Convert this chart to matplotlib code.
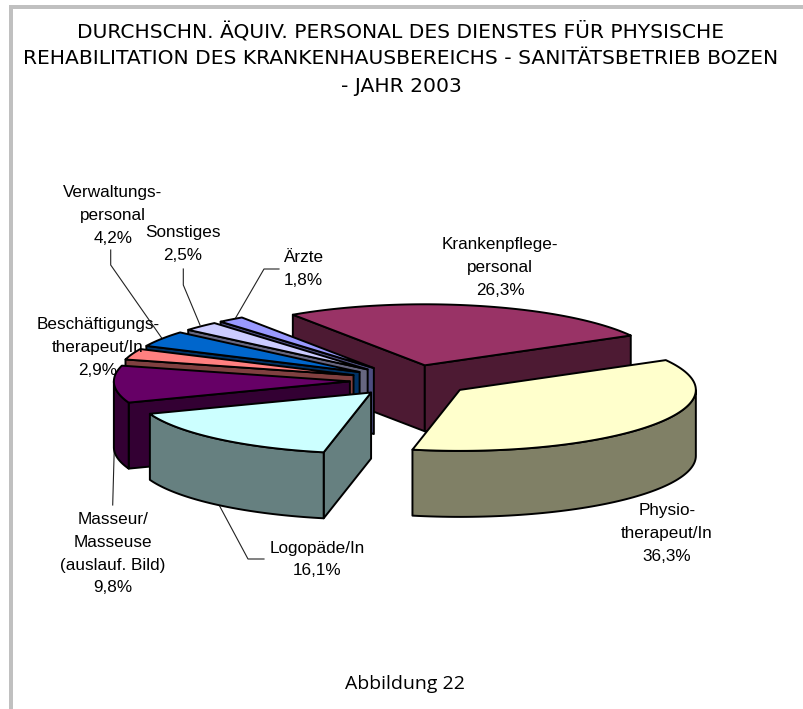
import numpy as np
import matplotlib
matplotlib.use("Agg")
import matplotlib.pyplot as plt
from matplotlib.patches import Polygon, Rectangle

# ---------- data ----------
categories = ["Krankenpflege-\npersonal", "Physio-\ntherapeut/In", "Logopäde/In",
              "Masseur/\nMasseuse\n(auslauf. Bild)", "Beschäftigungs-\ntherapeut/In",
              "Verwaltungs-\npersonal", "Sonstiges", "Ärzte"]
shares = [26.3, 36.3, 16.1, 9.8, 2.9, 4.2, 2.5, 1.8]
share_labels = ["26,3%", "36,3%", "16,1%", "9,8%", "2,9%", "4,2%", "2,5%", "1,8%"]
top_colors = ["#993366", "#FFFFCC", "#CCFFFF", "#660066", "#FF8080", "#0066CC", "#CCCCFF", "#9999FF"]
side_colors = ["#4D1A33", "#808066", "#668080", "#330033", "#804040", "#003366", "#666680", "#4D4D80"]
title_lines = ["DURCHSCHN. ÄQUIV. PERSONAL DES DIENSTES FÜR PHYSISCHE",
               "REHABILITATION DES KRANKENHAUSBEREICHS - SANITÄTSBETRIEB BOZEN",
               "- JAHR 2003"]
caption = "Abbildung 22"

# ---------- layout (pixel space) ----------
W, H = 804, 709
CX, CY = 410.7, 380.6
RX, RY = 236.0, 61.0
EXPLODE = 0.258
DEPTH = 66.0
START_DEG = -124.0
label_pos = [(500, 245), (667, 511), (317, 548), (113, 520), (98, 325), (113, 193), (183, 233), (303, 258)]
leaders = [None, None,
           [(218, 503), (248, 559), (264, 559)],
           [(114.5, 440), (112.7, 505)],
           None,
           [(110.7, 250), (110.7, 265), (161.7, 338)],
           [(183.3, 269), (183.3, 285), (200, 325)],
           [(279, 269), (264, 269), (235, 319)]]
LINE_H = 22.6

fig = plt.figure(figsize=(W / 100, H / 100), dpi=100)
ax = fig.add_axes([0, 0, 1, 1])
ax.set_xlim(0, W)
ax.set_ylim(H, 0)
ax.axis("off")

# frame
ax.add_patch(Rectangle((9, 5), W - 9, 4, fc="#C0C0C0", ec="none", zorder=0))
ax.add_patch(Rectangle((9, 5), 4, H - 5, fc="#C0C0C0", ec="none", zorder=0))

# leader lines (behind the pie)
for seg in leaders:
    if seg:
        xs, ys = zip(*seg)
        ax.plot(xs, ys, color="#222222", lw=0.8, zorder=1, solid_joinstyle="miter")

# slice angles
total = sum(shares)
sweeps = [s / total * 360 for s in shares]
starts = START_DEG + np.concatenate([[0], np.cumsum(sweeps)[:-1]])


def ell(t):
    r = np.radians(t)
    return np.cos(r) * RX, np.sin(r) * RY


def draw_slice(i, z):
    t0, t1 = starts[i], starts[i] + sweeps[i]
    mid = (t0 + t1) / 2
    ex, ey = ell(mid)
    ax_, ay_ = CX + EXPLODE * ex, CY + EXPLODE * ey
    ts = np.linspace(t0, t1, 90)
    arc = np.array([ell(t) for t in ts]) + [ax_, ay_]
    apex = np.array([ax_, ay_])
    down = np.array([0, DEPTH])
    kw = dict(ec="black", lw=1.4, joinstyle="round", zorder=z)
    # cut faces
    if np.cos(np.radians(t0)) < 0:
        ax.add_patch(Polygon([apex, arc[0], arc[0] + down, apex + down], fc=side_colors[i], **kw))
    if np.cos(np.radians(t1)) > 0:
        ax.add_patch(Polygon([apex, arc[-1], arc[-1] + down, apex + down], fc=side_colors[i], **kw))
    # outer rim (front half only)
    mask = np.sin(np.radians(ts)) >= 0
    if mask.sum() > 1:
        rim = arc[mask]
        ax.add_patch(Polygon(np.vstack([rim, (rim + down)[::-1]]), fc=side_colors[i], **kw))
    # top
    ax.add_patch(Polygon(np.vstack([apex, arc]), fc=top_colors[i], **kw))


for z, i in enumerate([0, 7, 6, 5, 4, 3, 2, 1]):
    draw_slice(i, 2 + z)

# labels
sans = "Liberation Sans"
for name, pct, (x, y) in zip(categories, share_labels, label_pos):
    for k, line in enumerate(name.split("\n") + [pct]):
        ax.text(x, y + k * LINE_H, line, ha="center", va="center", fontsize=12.3,
                family=sans, color="black", zorder=20)

# title and caption
for line, y in zip(title_lines, [31, 59, 86]):
    ax.text(W / 2 - 1, y, line, ha="center", va="center", fontsize=14.6, family="DejaVu Sans",
            color="black", fontweight="normal")
ax.text(405, 684, caption, ha="center", va="center", fontsize=14, family="Open Sans", color="black")

fig.savefig("out.png", dpi=100)
